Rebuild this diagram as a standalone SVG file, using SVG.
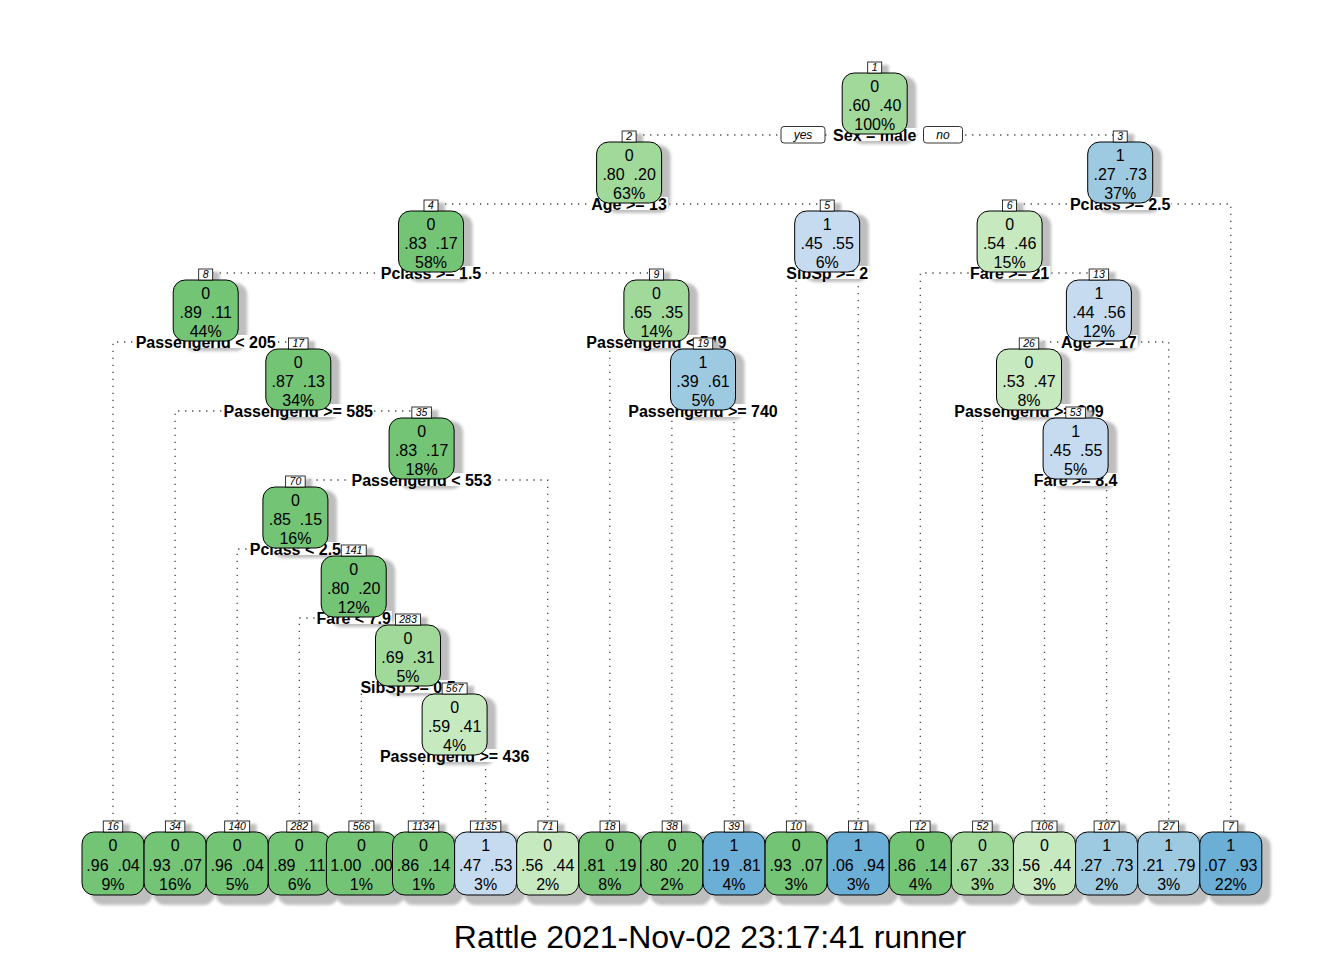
<svg xmlns="http://www.w3.org/2000/svg" width="1344" height="960" viewBox="0 0 1344 960">
<defs>
<filter id="blur" x="-20%" y="-20%" width="140%" height="140%"><feGaussianBlur stdDeviation="1.4"/></filter>
</defs>
<style>
.e{fill:none;stroke:#444;stroke-width:1.3;stroke-dasharray:1.3 5.7}
.sh{fill:#bebebe;filter:url(#blur)}
.lbg{fill:#fff}
.lt{font-family:"Liberation Sans",Arial,sans-serif;font-size:16px;font-weight:bold;text-anchor:middle;fill:#000}
.bx{stroke:#000;stroke-width:1}
.nt{font-family:"Liberation Sans",Arial,sans-serif;font-size:16px;text-anchor:middle;fill:#000}
.nb{fill:#fff;stroke:#000;stroke-width:0.8}
.nn{font-family:"Liberation Sans",Arial,sans-serif;font-size:10.5px;font-style:italic;text-anchor:middle;fill:#000}
.yn{font-family:"Liberation Sans",Arial,sans-serif;font-size:12px;font-style:italic;text-anchor:middle;fill:#000}
.dg{fill:#74C476}.mg{fill:#A1D99B}.lg{fill:#C7E9C0}
.lb{fill:#C6DBEF}.mb{fill:#9ECAE1}.db{fill:#6BAED6}
.title{font-family:"Liberation Sans",Arial,sans-serif;font-size:32px;text-anchor:middle;fill:#000}
</style>
<rect width="1344" height="960" fill="#fff"/>
<g id="connectors">
<path class="e" d="M629.1 135H1120.2"/>
<path class="e" d="M431 204H827.2"/>
<path class="e" d="M1009.6 204H1230.8V821"/>
<path class="e" d="M205.7 273H656.4"/>
<path class="e" d="M796.1 821V273H858.2V821"/>
<path class="e" d="M920.3 821V273H1098.9"/>
<path class="e" d="M113 821V342H298.3"/>
<path class="e" d="M609.8 821V342H703"/>
<path class="e" d="M1029 342H1168.7V821"/>
<path class="e" d="M175.1 821V411H421.6"/>
<path class="e" d="M671.9 821V411H734V821"/>
<path class="e" d="M982.4 821V411H1075.6"/>
<path class="e" d="M295.4 480H547.7V821"/>
<path class="e" d="M1044.5 821V480H1106.6V821"/>
<path class="e" d="M237.2 821V549H353.7"/>
<path class="e" d="M299.3 821V618H408"/>
<path class="e" d="M361.4 821V687H454.6"/>
<path class="e" d="M423.5 821V756H485.6V821"/>
<rect x="781" y="126.5" width="44" height="16.5" rx="3" class="nb"/>
<text class="yn" x="803" y="139">yes</text>
<rect x="923.5" y="126.5" width="39" height="16.5" rx="3" class="nb"/>
<text class="yn" x="943" y="139">no</text>
</g>

<g id="node1">
<rect class="sh" x="851.2" y="76" width="65" height="68" rx="12"/>
<rect class="sh" x="874.7" y="65" width="14" height="11"/>
<rect class="lbg" x="832.1" y="128" width="85.2" height="13"/>
<text class="lt" x="874.7" y="140.7">Sex = male</text>
<rect class="bx mg" x="842.2" y="73" width="65" height="61" rx="12"/>
<text class="nt" x="874.7" y="91.5">0</text>
<text class="nt" x="874.7" y="110.7" xml:space="preserve">.60  .40</text>
<text class="nt" x="874.7" y="129.8">100%</text>
<rect class="nb" x="867.7" y="62" width="14" height="11"/>
<text class="nn" x="874.7" y="71">1</text>
</g>

<g id="node2">
<rect class="sh" x="605.6" y="145" width="65" height="68" rx="12"/>
<rect class="sh" x="629.1" y="134" width="14" height="11"/>
<rect class="lbg" x="590.3" y="197" width="77.6" height="13"/>
<text class="lt" x="629.1" y="209.7">Age &gt;= 13</text>
<rect class="bx mg" x="596.6" y="142" width="65" height="61" rx="12"/>
<text class="nt" x="629.1" y="160.5">0</text>
<text class="nt" x="629.1" y="179.7" xml:space="preserve">.80  .20</text>
<text class="nt" x="629.1" y="198.8">63%</text>
<rect class="nb" x="622.1" y="131" width="14" height="11"/>
<text class="nn" x="629.1" y="140">2</text>
</g>

<g id="node3">
<rect class="sh" x="1096.7" y="145" width="65" height="68" rx="12"/>
<rect class="sh" x="1120.2" y="134" width="14" height="11"/>
<rect class="lbg" x="1068.95" y="197" width="102.5" height="13"/>
<text class="lt" x="1120.2" y="209.7">Pclass &gt;= 2.5</text>
<rect class="bx mb" x="1087.7" y="142" width="65" height="61" rx="12"/>
<text class="nt" x="1120.2" y="160.5">1</text>
<text class="nt" x="1120.2" y="179.7" xml:space="preserve">.27  .73</text>
<text class="nt" x="1120.2" y="198.8">37%</text>
<rect class="nb" x="1113.2" y="131" width="14" height="11"/>
<text class="nn" x="1120.2" y="140">3</text>
</g>

<g id="node4">
<rect class="sh" x="407.5" y="214" width="65" height="68" rx="12"/>
<rect class="sh" x="431" y="203" width="14" height="11"/>
<rect class="lbg" x="379.75" y="266" width="102.5" height="13"/>
<text class="lt" x="431" y="278.7">Pclass &gt;= 1.5</text>
<rect class="bx dg" x="398.5" y="211" width="65" height="61" rx="12"/>
<text class="nt" x="431" y="229.5">0</text>
<text class="nt" x="431" y="248.7" xml:space="preserve">.83  .17</text>
<text class="nt" x="431" y="267.8">58%</text>
<rect class="nb" x="424" y="200" width="14" height="11"/>
<text class="nn" x="431" y="209">4</text>
</g>

<g id="node5">
<rect class="sh" x="803.7" y="214" width="65" height="68" rx="12"/>
<rect class="sh" x="827.2" y="203" width="14" height="11"/>
<rect class="lbg" x="785.3" y="266" width="83.8" height="13"/>
<text class="lt" x="827.2" y="278.7">SibSp &gt;= 2</text>
<rect class="bx lb" x="794.7" y="211" width="65" height="61" rx="12"/>
<text class="nt" x="827.2" y="229.5">1</text>
<text class="nt" x="827.2" y="248.7" xml:space="preserve">.45  .55</text>
<text class="nt" x="827.2" y="267.8">6%</text>
<rect class="nb" x="820.2" y="200" width="14" height="11"/>
<text class="nn" x="827.2" y="209">5</text>
</g>

<g id="node6">
<rect class="sh" x="986.1" y="214" width="65" height="68" rx="12"/>
<rect class="sh" x="1009.6" y="203" width="14" height="11"/>
<rect class="lbg" x="969" y="266" width="81.2" height="13"/>
<text class="lt" x="1009.6" y="278.7">Fare &gt;= 21</text>
<rect class="bx lg" x="977.1" y="211" width="65" height="61" rx="12"/>
<text class="nt" x="1009.6" y="229.5">0</text>
<text class="nt" x="1009.6" y="248.7" xml:space="preserve">.54  .46</text>
<text class="nt" x="1009.6" y="267.8">15%</text>
<rect class="nb" x="1002.6" y="200" width="14" height="11"/>
<text class="nn" x="1009.6" y="209">6</text>
</g>

<g id="node8">
<rect class="sh" x="182.2" y="283" width="65" height="68" rx="12"/>
<rect class="sh" x="205.7" y="272" width="14" height="11"/>
<rect class="lbg" x="134.7" y="335" width="142" height="13"/>
<text class="lt" x="205.7" y="347.7">PassengerId &lt; 205</text>
<rect class="bx dg" x="173.2" y="280" width="65" height="61" rx="12"/>
<text class="nt" x="205.7" y="298.5">0</text>
<text class="nt" x="205.7" y="317.7" xml:space="preserve">.89  .11</text>
<text class="nt" x="205.7" y="336.8">44%</text>
<rect class="nb" x="198.7" y="269" width="14" height="11"/>
<text class="nn" x="205.7" y="278">8</text>
</g>

<g id="node9">
<rect class="sh" x="632.9" y="283" width="65" height="68" rx="12"/>
<rect class="sh" x="656.4" y="272" width="14" height="11"/>
<rect class="lbg" x="585.4" y="335" width="142" height="13"/>
<text class="lt" x="656.4" y="347.7">PassengerId &lt; 549</text>
<rect class="bx mg" x="623.9" y="280" width="65" height="61" rx="12"/>
<text class="nt" x="656.4" y="298.5">0</text>
<text class="nt" x="656.4" y="317.7" xml:space="preserve">.65  .35</text>
<text class="nt" x="656.4" y="336.8">14%</text>
<rect class="nb" x="649.4" y="269" width="14" height="11"/>
<text class="nn" x="656.4" y="278">9</text>
</g>

<g id="node13">
<rect class="sh" x="1075.4" y="283" width="65" height="68" rx="12"/>
<rect class="sh" x="1096.15" y="272" width="19.5" height="11"/>
<rect class="lbg" x="1060.1" y="335" width="77.6" height="13"/>
<text class="lt" x="1098.9" y="347.7">Age &gt;= 17</text>
<rect class="bx lb" x="1066.4" y="280" width="65" height="61" rx="12"/>
<text class="nt" x="1098.9" y="298.5">1</text>
<text class="nt" x="1098.9" y="317.7" xml:space="preserve">.44  .56</text>
<text class="nt" x="1098.9" y="336.8">12%</text>
<rect class="nb" x="1089.15" y="269" width="19.5" height="11"/>
<text class="nn" x="1098.9" y="278">13</text>
</g>

<g id="node17">
<rect class="sh" x="274.8" y="352" width="65" height="68" rx="12"/>
<rect class="sh" x="295.55" y="341" width="19.5" height="11"/>
<rect class="lbg" x="222.6" y="404" width="151.4" height="13"/>
<text class="lt" x="298.3" y="416.7">PassengerId &gt;= 585</text>
<rect class="bx dg" x="265.8" y="349" width="65" height="61" rx="12"/>
<text class="nt" x="298.3" y="367.5">0</text>
<text class="nt" x="298.3" y="386.7" xml:space="preserve">.87  .13</text>
<text class="nt" x="298.3" y="405.8">34%</text>
<rect class="nb" x="288.55" y="338" width="19.5" height="11"/>
<text class="nn" x="298.3" y="347">17</text>
</g>

<g id="node19">
<rect class="sh" x="679.5" y="352" width="65" height="68" rx="12"/>
<rect class="sh" x="700.25" y="341" width="19.5" height="11"/>
<rect class="lbg" x="627.3" y="404" width="151.4" height="13"/>
<text class="lt" x="703" y="416.7">PassengerId &gt;= 740</text>
<rect class="bx mb" x="670.5" y="349" width="65" height="61" rx="12"/>
<text class="nt" x="703" y="367.5">1</text>
<text class="nt" x="703" y="386.7" xml:space="preserve">.39  .61</text>
<text class="nt" x="703" y="405.8">5%</text>
<rect class="nb" x="693.25" y="338" width="19.5" height="11"/>
<text class="nn" x="703" y="347">19</text>
</g>

<g id="node26">
<rect class="sh" x="1005.5" y="352" width="65" height="68" rx="12"/>
<rect class="sh" x="1026.25" y="341" width="19.5" height="11"/>
<rect class="lbg" x="953.3" y="404" width="151.4" height="13"/>
<text class="lt" x="1029" y="416.7">PassengerId &gt;= 399</text>
<rect class="bx lg" x="996.5" y="349" width="65" height="61" rx="12"/>
<text class="nt" x="1029" y="367.5">0</text>
<text class="nt" x="1029" y="386.7" xml:space="preserve">.53  .47</text>
<text class="nt" x="1029" y="405.8">8%</text>
<rect class="nb" x="1019.25" y="338" width="19.5" height="11"/>
<text class="nn" x="1029" y="347">26</text>
</g>

<g id="node35">
<rect class="sh" x="398.1" y="421" width="65" height="68" rx="12"/>
<rect class="sh" x="418.85" y="410" width="19.5" height="11"/>
<rect class="lbg" x="350.6" y="473" width="142" height="13"/>
<text class="lt" x="421.6" y="485.7">PassengerId &lt; 553</text>
<rect class="bx dg" x="389.1" y="418" width="65" height="61" rx="12"/>
<text class="nt" x="421.6" y="436.5">0</text>
<text class="nt" x="421.6" y="455.7" xml:space="preserve">.83  .17</text>
<text class="nt" x="421.6" y="474.8">18%</text>
<rect class="nb" x="411.85" y="407" width="19.5" height="11"/>
<text class="nn" x="421.6" y="416">35</text>
</g>

<g id="node53">
<rect class="sh" x="1052.1" y="421" width="65" height="68" rx="12"/>
<rect class="sh" x="1072.85" y="410" width="19.5" height="11"/>
<rect class="lbg" x="1032.8" y="473" width="85.6" height="13"/>
<text class="lt" x="1075.6" y="485.7">Fare &gt;= 8.4</text>
<rect class="bx lb" x="1043.1" y="418" width="65" height="61" rx="12"/>
<text class="nt" x="1075.6" y="436.5">1</text>
<text class="nt" x="1075.6" y="455.7" xml:space="preserve">.45  .55</text>
<text class="nt" x="1075.6" y="474.8">5%</text>
<rect class="nb" x="1065.85" y="407" width="19.5" height="11"/>
<text class="nn" x="1075.6" y="416">53</text>
</g>

<g id="node70">
<rect class="sh" x="271.9" y="490" width="65" height="68" rx="12"/>
<rect class="sh" x="292.65" y="479" width="19.5" height="11"/>
<rect class="lbg" x="248.8" y="542" width="93.2" height="13"/>
<text class="lt" x="295.4" y="554.7">Pclass &lt; 2.5</text>
<rect class="bx dg" x="262.9" y="487" width="65" height="61" rx="12"/>
<text class="nt" x="295.4" y="505.5">0</text>
<text class="nt" x="295.4" y="524.7" xml:space="preserve">.85  .15</text>
<text class="nt" x="295.4" y="543.8">16%</text>
<rect class="nb" x="285.65" y="476" width="19.5" height="11"/>
<text class="nn" x="295.4" y="485">70</text>
</g>

<g id="node141">
<rect class="sh" x="330.2" y="559" width="65" height="68" rx="12"/>
<rect class="sh" x="348.2" y="548" width="25" height="11"/>
<rect class="lbg" x="315.55" y="611" width="76.3" height="13"/>
<text class="lt" x="353.7" y="623.7">Fare &lt; 7.9</text>
<rect class="bx dg" x="321.2" y="556" width="65" height="61" rx="12"/>
<text class="nt" x="353.7" y="574.5">0</text>
<text class="nt" x="353.7" y="593.7" xml:space="preserve">.80  .20</text>
<text class="nt" x="353.7" y="612.8">12%</text>
<rect class="nb" x="341.2" y="545" width="25" height="11"/>
<text class="nn" x="353.7" y="554">141</text>
</g>

<g id="node283">
<rect class="sh" x="384.5" y="628" width="65" height="68" rx="12"/>
<rect class="sh" x="402.5" y="617" width="25" height="11"/>
<rect class="lbg" x="359.4" y="680" width="97.2" height="13"/>
<text class="lt" x="408" y="692.7">SibSp &gt;= 0.5</text>
<rect class="bx mg" x="375.5" y="625" width="65" height="61" rx="12"/>
<text class="nt" x="408" y="643.5">0</text>
<text class="nt" x="408" y="662.7" xml:space="preserve">.69  .31</text>
<text class="nt" x="408" y="681.8">5%</text>
<rect class="nb" x="395.5" y="614" width="25" height="11"/>
<text class="nn" x="408" y="623">283</text>
</g>

<g id="node567">
<rect class="sh" x="431.1" y="697" width="65" height="68" rx="12"/>
<rect class="sh" x="449.1" y="686" width="25" height="11"/>
<rect class="lbg" x="378.9" y="749" width="151.4" height="13"/>
<text class="lt" x="454.6" y="761.7">PassengerId &gt;= 436</text>
<rect class="bx lg" x="422.1" y="694" width="65" height="61" rx="12"/>
<text class="nt" x="454.6" y="712.5">0</text>
<text class="nt" x="454.6" y="731.7" xml:space="preserve">.59  .41</text>
<text class="nt" x="454.6" y="750.8">4%</text>
<rect class="nb" x="442.1" y="683" width="25" height="11"/>
<text class="nn" x="454.6" y="692">567</text>
</g>

<g id="node16">
<rect class="sh" x="91" y="835" width="62" height="70" rx="12"/>
<rect class="sh" x="110.25" y="824" width="19.5" height="11"/>
<rect class="bx dg" x="82" y="832" width="62" height="63" rx="12"/>
<text class="nt" x="113" y="851">0</text>
<text class="nt" x="113" y="870.5" xml:space="preserve">.96  .04</text>
<text class="nt" x="113" y="889.5">9%</text>
<rect class="nb" x="103.25" y="821" width="19.5" height="11"/>
<text class="nn" x="113" y="830">16</text>
</g>

<g id="node34">
<rect class="sh" x="153.1" y="835" width="62" height="70" rx="12"/>
<rect class="sh" x="172.35" y="824" width="19.5" height="11"/>
<rect class="bx dg" x="144.1" y="832" width="62" height="63" rx="12"/>
<text class="nt" x="175.1" y="851">0</text>
<text class="nt" x="175.1" y="870.5" xml:space="preserve">.93  .07</text>
<text class="nt" x="175.1" y="889.5">16%</text>
<rect class="nb" x="165.35" y="821" width="19.5" height="11"/>
<text class="nn" x="175.1" y="830">34</text>
</g>

<g id="node140">
<rect class="sh" x="215.2" y="835" width="62" height="70" rx="12"/>
<rect class="sh" x="231.7" y="824" width="25" height="11"/>
<rect class="bx dg" x="206.2" y="832" width="62" height="63" rx="12"/>
<text class="nt" x="237.2" y="851">0</text>
<text class="nt" x="237.2" y="870.5" xml:space="preserve">.96  .04</text>
<text class="nt" x="237.2" y="889.5">5%</text>
<rect class="nb" x="224.7" y="821" width="25" height="11"/>
<text class="nn" x="237.2" y="830">140</text>
</g>

<g id="node282">
<rect class="sh" x="277.3" y="835" width="62" height="70" rx="12"/>
<rect class="sh" x="293.8" y="824" width="25" height="11"/>
<rect class="bx dg" x="268.3" y="832" width="62" height="63" rx="12"/>
<text class="nt" x="299.3" y="851">0</text>
<text class="nt" x="299.3" y="870.5" xml:space="preserve">.89  .11</text>
<text class="nt" x="299.3" y="889.5">6%</text>
<rect class="nb" x="286.8" y="821" width="25" height="11"/>
<text class="nn" x="299.3" y="830">282</text>
</g>

<g id="node566">
<rect class="sh" x="335.4" y="835" width="70" height="70" rx="12"/>
<rect class="sh" x="355.9" y="824" width="25" height="11"/>
<rect class="bx dg" x="326.4" y="832" width="70" height="63" rx="12"/>
<text class="nt" x="361.4" y="851">0</text>
<text class="nt" x="361.4" y="870.5" xml:space="preserve">1.00  .00</text>
<text class="nt" x="361.4" y="889.5">1%</text>
<rect class="nb" x="348.9" y="821" width="25" height="11"/>
<text class="nn" x="361.4" y="830">566</text>
</g>

<g id="node1134">
<rect class="sh" x="401.5" y="835" width="62" height="70" rx="12"/>
<rect class="sh" x="415.25" y="824" width="30.5" height="11"/>
<rect class="bx dg" x="392.5" y="832" width="62" height="63" rx="12"/>
<text class="nt" x="423.5" y="851">0</text>
<text class="nt" x="423.5" y="870.5" xml:space="preserve">.86  .14</text>
<text class="nt" x="423.5" y="889.5">1%</text>
<rect class="nb" x="408.25" y="821" width="30.5" height="11"/>
<text class="nn" x="423.5" y="830">1134</text>
</g>

<g id="node1135">
<rect class="sh" x="463.6" y="835" width="62" height="70" rx="12"/>
<rect class="sh" x="477.35" y="824" width="30.5" height="11"/>
<rect class="bx lb" x="454.6" y="832" width="62" height="63" rx="12"/>
<text class="nt" x="485.6" y="851">1</text>
<text class="nt" x="485.6" y="870.5" xml:space="preserve">.47  .53</text>
<text class="nt" x="485.6" y="889.5">3%</text>
<rect class="nb" x="470.35" y="821" width="30.5" height="11"/>
<text class="nn" x="485.6" y="830">1135</text>
</g>

<g id="node71">
<rect class="sh" x="525.7" y="835" width="62" height="70" rx="12"/>
<rect class="sh" x="544.95" y="824" width="19.5" height="11"/>
<rect class="bx lg" x="516.7" y="832" width="62" height="63" rx="12"/>
<text class="nt" x="547.7" y="851">0</text>
<text class="nt" x="547.7" y="870.5" xml:space="preserve">.56  .44</text>
<text class="nt" x="547.7" y="889.5">2%</text>
<rect class="nb" x="537.95" y="821" width="19.5" height="11"/>
<text class="nn" x="547.7" y="830">71</text>
</g>

<g id="node18">
<rect class="sh" x="587.8" y="835" width="62" height="70" rx="12"/>
<rect class="sh" x="607.05" y="824" width="19.5" height="11"/>
<rect class="bx dg" x="578.8" y="832" width="62" height="63" rx="12"/>
<text class="nt" x="609.8" y="851">0</text>
<text class="nt" x="609.8" y="870.5" xml:space="preserve">.81  .19</text>
<text class="nt" x="609.8" y="889.5">8%</text>
<rect class="nb" x="600.05" y="821" width="19.5" height="11"/>
<text class="nn" x="609.8" y="830">18</text>
</g>

<g id="node38">
<rect class="sh" x="649.9" y="835" width="62" height="70" rx="12"/>
<rect class="sh" x="669.15" y="824" width="19.5" height="11"/>
<rect class="bx dg" x="640.9" y="832" width="62" height="63" rx="12"/>
<text class="nt" x="671.9" y="851">0</text>
<text class="nt" x="671.9" y="870.5" xml:space="preserve">.80  .20</text>
<text class="nt" x="671.9" y="889.5">2%</text>
<rect class="nb" x="662.15" y="821" width="19.5" height="11"/>
<text class="nn" x="671.9" y="830">38</text>
</g>

<g id="node39">
<rect class="sh" x="712" y="835" width="62" height="70" rx="12"/>
<rect class="sh" x="731.25" y="824" width="19.5" height="11"/>
<rect class="bx db" x="703" y="832" width="62" height="63" rx="12"/>
<text class="nt" x="734" y="851">1</text>
<text class="nt" x="734" y="870.5" xml:space="preserve">.19  .81</text>
<text class="nt" x="734" y="889.5">4%</text>
<rect class="nb" x="724.25" y="821" width="19.5" height="11"/>
<text class="nn" x="734" y="830">39</text>
</g>

<g id="node10">
<rect class="sh" x="774.1" y="835" width="62" height="70" rx="12"/>
<rect class="sh" x="793.35" y="824" width="19.5" height="11"/>
<rect class="bx dg" x="765.1" y="832" width="62" height="63" rx="12"/>
<text class="nt" x="796.1" y="851">0</text>
<text class="nt" x="796.1" y="870.5" xml:space="preserve">.93  .07</text>
<text class="nt" x="796.1" y="889.5">3%</text>
<rect class="nb" x="786.35" y="821" width="19.5" height="11"/>
<text class="nn" x="796.1" y="830">10</text>
</g>

<g id="node11">
<rect class="sh" x="836.2" y="835" width="62" height="70" rx="12"/>
<rect class="sh" x="855.45" y="824" width="19.5" height="11"/>
<rect class="bx db" x="827.2" y="832" width="62" height="63" rx="12"/>
<text class="nt" x="858.2" y="851">1</text>
<text class="nt" x="858.2" y="870.5" xml:space="preserve">.06  .94</text>
<text class="nt" x="858.2" y="889.5">3%</text>
<rect class="nb" x="848.45" y="821" width="19.5" height="11"/>
<text class="nn" x="858.2" y="830">11</text>
</g>

<g id="node12">
<rect class="sh" x="898.3" y="835" width="62" height="70" rx="12"/>
<rect class="sh" x="917.55" y="824" width="19.5" height="11"/>
<rect class="bx dg" x="889.3" y="832" width="62" height="63" rx="12"/>
<text class="nt" x="920.3" y="851">0</text>
<text class="nt" x="920.3" y="870.5" xml:space="preserve">.86  .14</text>
<text class="nt" x="920.3" y="889.5">4%</text>
<rect class="nb" x="910.55" y="821" width="19.5" height="11"/>
<text class="nn" x="920.3" y="830">12</text>
</g>

<g id="node52">
<rect class="sh" x="960.4" y="835" width="62" height="70" rx="12"/>
<rect class="sh" x="979.65" y="824" width="19.5" height="11"/>
<rect class="bx mg" x="951.4" y="832" width="62" height="63" rx="12"/>
<text class="nt" x="982.4" y="851">0</text>
<text class="nt" x="982.4" y="870.5" xml:space="preserve">.67  .33</text>
<text class="nt" x="982.4" y="889.5">3%</text>
<rect class="nb" x="972.65" y="821" width="19.5" height="11"/>
<text class="nn" x="982.4" y="830">52</text>
</g>

<g id="node106">
<rect class="sh" x="1022.5" y="835" width="62" height="70" rx="12"/>
<rect class="sh" x="1039" y="824" width="25" height="11"/>
<rect class="bx lg" x="1013.5" y="832" width="62" height="63" rx="12"/>
<text class="nt" x="1044.5" y="851">0</text>
<text class="nt" x="1044.5" y="870.5" xml:space="preserve">.56  .44</text>
<text class="nt" x="1044.5" y="889.5">3%</text>
<rect class="nb" x="1032" y="821" width="25" height="11"/>
<text class="nn" x="1044.5" y="830">106</text>
</g>

<g id="node107">
<rect class="sh" x="1084.6" y="835" width="62" height="70" rx="12"/>
<rect class="sh" x="1101.1" y="824" width="25" height="11"/>
<rect class="bx mb" x="1075.6" y="832" width="62" height="63" rx="12"/>
<text class="nt" x="1106.6" y="851">1</text>
<text class="nt" x="1106.6" y="870.5" xml:space="preserve">.27  .73</text>
<text class="nt" x="1106.6" y="889.5">2%</text>
<rect class="nb" x="1094.1" y="821" width="25" height="11"/>
<text class="nn" x="1106.6" y="830">107</text>
</g>

<g id="node27">
<rect class="sh" x="1146.7" y="835" width="62" height="70" rx="12"/>
<rect class="sh" x="1165.95" y="824" width="19.5" height="11"/>
<rect class="bx mb" x="1137.7" y="832" width="62" height="63" rx="12"/>
<text class="nt" x="1168.7" y="851">1</text>
<text class="nt" x="1168.7" y="870.5" xml:space="preserve">.21  .79</text>
<text class="nt" x="1168.7" y="889.5">3%</text>
<rect class="nb" x="1158.95" y="821" width="19.5" height="11"/>
<text class="nn" x="1168.7" y="830">27</text>
</g>

<g id="node7">
<rect class="sh" x="1208.8" y="835" width="62" height="70" rx="12"/>
<rect class="sh" x="1230.8" y="824" width="14" height="11"/>
<rect class="bx db" x="1199.8" y="832" width="62" height="63" rx="12"/>
<text class="nt" x="1230.8" y="851">1</text>
<text class="nt" x="1230.8" y="870.5" xml:space="preserve">.07  .93</text>
<text class="nt" x="1230.8" y="889.5">22%</text>
<rect class="nb" x="1223.8" y="821" width="14" height="11"/>
<text class="nn" x="1230.8" y="830">7</text>
</g>

<text class="title" x="710" y="948">Rattle 2021-Nov-02 23:17:41 runner</text>
</svg>
